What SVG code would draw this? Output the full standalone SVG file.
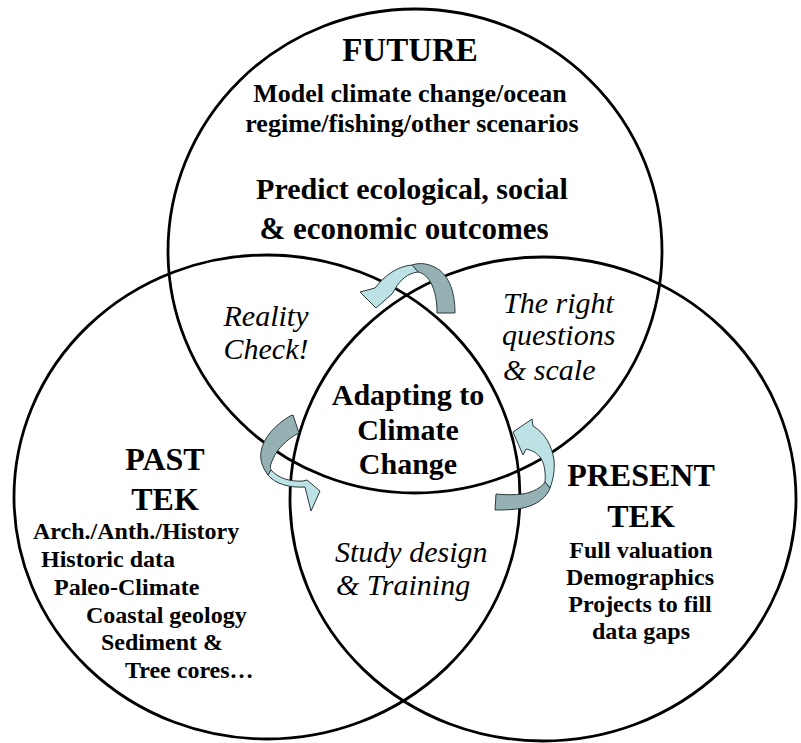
<svg xmlns="http://www.w3.org/2000/svg" width="801" height="743" viewBox="0 0 801 743">
<style>
.c{fill:none;stroke:#000;stroke-width:2.8}
.b{font-family:"Liberation Serif","Times New Roman",serif;font-weight:bold;fill:#000}
.i{font-family:"Liberation Serif","Times New Roman",serif;font-style:italic;fill:#000}
.m{text-anchor:middle}
.lt{fill:#bde2e5;stroke:#2a3a3c;stroke-width:1}
.dk{fill:#95b1b4;stroke:#2a3a3c;stroke-width:1}
</style>
<rect width="801" height="743" fill="#fff"/>
<g id="future">
<ellipse class="c" cx="415" cy="251" rx="247" ry="242"/>
<text class="b m" x="410" y="61" font-size="33">FUTURE</text>
<text class="b m" x="410" y="102" font-size="26">Model climate change/ocean</text>
<text class="b m" x="412" y="132" font-size="26">regime/fishing/other scenarios</text>
<text class="b m" x="412" y="199" font-size="30">Predict ecological, social</text>
<text class="b m" x="404" y="239" font-size="31">&amp; economic outcomes</text>
</g>
<g id="past">
<ellipse class="c" cx="267" cy="497" rx="253" ry="242"/>
<text class="b m" x="165" y="470" font-size="32">PAST</text>
<text class="b m" x="165" y="510" font-size="32">TEK</text>
<text class="b" x="33" y="539" font-size="24">Arch./Anth./History</text>
<text class="b" x="41" y="567" font-size="24">Historic data</text>
<text class="b" x="54" y="595" font-size="24">Paleo-Climate</text>
<text class="b" x="86" y="623" font-size="24">Coastal geology</text>
<text class="b" x="101" y="650" font-size="24">Sediment &amp;</text>
<text class="b" x="125" y="678" font-size="24">Tree cores…</text>
</g>
<g id="present">
<ellipse class="c" cx="543" cy="499" rx="253" ry="242"/>
<text class="b m" x="641" y="486" font-size="32">PRESENT</text>
<text class="b m" x="641" y="527" font-size="32">TEK</text>
<text class="b m" x="641" y="558" font-size="24">Full valuation</text>
<text class="b m" x="640" y="585" font-size="24">Demographics</text>
<text class="b m" x="640" y="612" font-size="24">Projects to fill</text>
<text class="b m" x="641" y="639" font-size="24">data gaps</text>
</g>
<g id="reality-check">
<text class="i m" x="266" y="326" font-size="30">Reality</text>
<text class="i m" x="266" y="359" font-size="30">Check!</text>
</g>
<g id="right-questions">
<text class="i" x="503" y="313" font-size="30">The right</text>
<text class="i" x="502" y="345" font-size="30">questions</text>
<text class="i" x="503" y="380" font-size="30">&amp; scale</text>
</g>
<g id="study-design">
<text class="i" x="335" y="562" font-size="30">Study design</text>
<text class="i" x="336" y="595" font-size="30">&amp; Training</text>
</g>
<g id="center">
<text class="b m" x="408" y="405" font-size="30">Adapting to</text>
<text class="b m" x="408" y="440" font-size="30">Climate</text>
<text class="b m" x="408" y="474" font-size="30">Change</text>
</g>
<g id="connectors">
<g id="arrow-top">
<path class="dk" d="M437,313 L455,313 C455,290 448,272 432,266 C425,263 418,263 412,265 L418,272 C424,273 428,278 431,283 C435,291 437,300 437,313 Z"/>
<path class="lt" d="M412,265 C398,266 385,275 375,288 L360,292 L376,308 L392,294 L395,289 C400,280 408,273 418,272 Z"/>
</g>
<g id="arrow-left">
<path class="dk" d="M290,416 L293,415 L299,433 C287,439 277,449 273,459 C270,465 270,468 271,470 L268,475 C262,467 260,460 261,452 C263,438 275,425 290,416 Z"/>
<path class="lt" d="M268,475 C275,484 290,488 305,487 L311,511 L320,491 L307,480 L303,481 C290,482 278,478 271,470 Z"/>
</g>
<g id="arrow-right">
<path class="lt" d="M513,432 L532,419 L533,426 C545,433 552,446 554,460 C555,470 553,480 550,488 L545,482 C546,472 544,462 540,457 C536,452 531,450 526,449 L523,455 Z"/>
<path class="dk" d="M550,488 C547,497 537,505 523,508 C513,510 503,510 495,510 L496,494 C505,495 515,495 523,494 C533,492 541,488 545,482 Z"/>
</g>
</g>
</svg>
